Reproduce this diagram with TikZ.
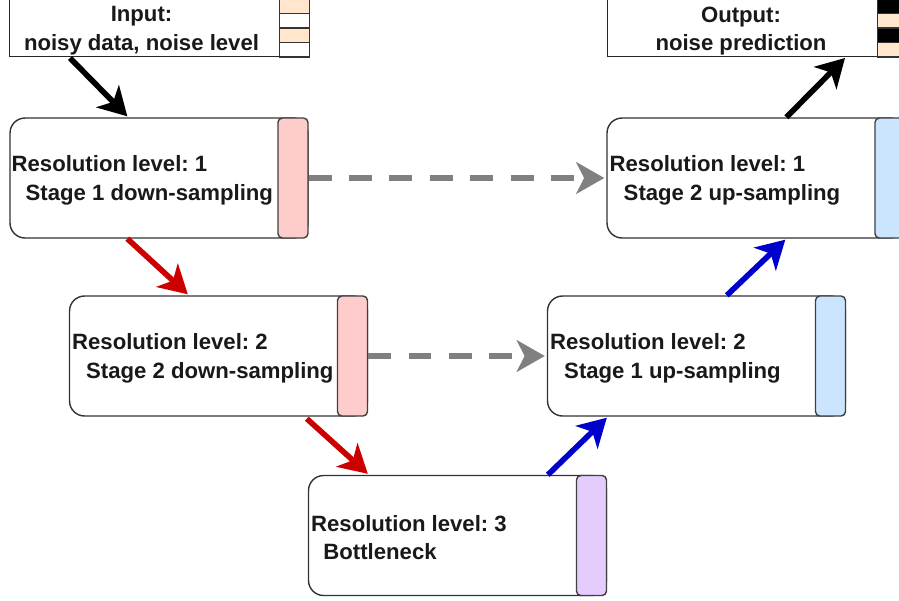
\documentclass[tikz,border=0pt]{standalone}
\usepackage{fontspec}
\setmainfont{Liberation Sans}
\frenchspacing
\usetikzlibrary{arrows.meta,calc}

\definecolor{peach}{HTML}{FFE6CC}
\definecolor{downred}{HTML}{FFCCCC}
\definecolor{upblue}{HTML}{CCE5FF}
\definecolor{neckviolet}{HTML}{E5CCFF}
\definecolor{arrred}{HTML}{CC0000}
\definecolor{arrblue}{HTML}{0000CC}
\definecolor{arrgray}{HTML}{808080}

\tikzset{
  lvlbox/.style={draw=black!80, line width=0.8pt, fill=white, rounded corners=0.3cm,
    minimum width=5.96cm, minimum height=2.4cm, inner sep=0pt},
  iobox/.style={draw=black!85, line width=0.8pt, fill=white,
    minimum width=5.98cm, minimum height=2.4cm, inner sep=0pt},
  strip/.style={draw=black!75, line width=0.8pt, rounded corners=2.5pt,
    minimum width=0.6cm, minimum height=2.4cm, inner sep=0pt},
  lbl/.style={font=\bfseries\fontsize{12.6}{16.4}\selectfont, text=black!90, inner sep=0pt},
  flow/.style={line width=3.2pt, -{Stealth[length=16pt, width=18pt, inset=4.5pt]}},
  skip/.style={flow, draw=arrgray, dash pattern=on 13pt off 10pt},
}

\begin{document}
\begin{tikzpicture}[x=0.02cm, y=-0.02cm]
  \useasboundingbox (0,0) rectangle (899,600);
  \clip (0,0) rectangle (899,600);

  % input and output
  \node[iobox, anchor=south west] (inbox) at (9,57) {};
  \foreach \i/\c in {0/white,1/peach,2/white,3/peach}
    \draw[draw=black!80, line width=0.8pt, fill=\c]
      ($(inbox.south east)+(-30,-14.5*\i)$) rectangle ($(inbox.south east)+(0,-14.5*\i-14.5)$);
  \node[lbl, align=center] (intext) at (141.5,31) {Input:\\noisy data, noise level};

  \node[iobox, anchor=south west] (outbox) at (607,57) {};
  \foreach \i/\c in {0/peach,1/black,2/peach,3/black}
    \draw[draw=black!80, line width=0.8pt, fill=\c]
      ($(outbox.south east)+(-30,-14.5*\i)$) rectangle ($(outbox.south east)+(0,-14.5*\i-14.5)$);
  \node[lbl, align=center] (outtext) at (741,31) {Output:\\noise prediction};

  % resolution levels
  \node[lvlbox] (d1) at (159,178) {};
  \node[strip, fill=downred, anchor=north east] (d1s) at (d1.north east) {};
  \node[lbl, align=left, anchor=west] (d1t) at ($(d1.west)+(2,2)$)
    {Resolution level: 1\\\hspace*{8pt}Stage 1 down-sampling};

  \node[lvlbox] (d2) at (218.5,356) {};
  \node[strip, fill=downred, anchor=north east] (d2s) at (d2.north east) {};
  \node[lbl, align=left, anchor=west] (d2t) at ($(d2.west)+(3,2)$)
    {Resolution level: 2\\\hspace*{8pt}Stage 2 down-sampling};

  \node[lvlbox] (b) at (457.5,535.5) {};
  \node[strip, fill=neckviolet, anchor=north east] (bs) at (b.north east) {};
  \node[lbl, align=left, anchor=west] (bt) at ($(b.west)+(3,2)$)
    {Resolution level: 3\\\hspace*{7pt}Bottleneck};

  \node[lvlbox] (u2) at (696.5,356) {};
  \node[strip, fill=upblue, anchor=north east] (u2s) at (u2.north east) {};
  \node[lbl, align=left, anchor=west] (u2t) at ($(u2.west)+(3,2)$)
    {Resolution level: 2\\\hspace*{8pt}Stage 1 up-sampling};

  \node[lvlbox] (u1) at (756,178) {};
  \node[strip, fill=upblue, anchor=north east] (u1s) at (u1.north east) {};
  \node[lbl, align=left, anchor=west] (u1t) at ($(u1.west)+(3,2)$)
    {Resolution level: 1\\\hspace*{8pt}Stage 2 up-sampling};

  % connections
  \begin{scope}
    \draw[flow, draw=black] ($(inbox.south west)+(61,1)$) to ($(d1.north west)+(118,-1)$);
    \draw[flow, draw=arrred] ($(d1.south west)+(118,0)$) to ($(d2.north west)+(119,-1)$);
    \draw[flow, draw=arrred] ($(d2.south west)+(238,2)$) to ($(b.north west)+(60,-1)$);
    \draw[flow, draw=arrblue] ($(b.north west)+(240,0)$) to ($(u2.south west)+(60,1)$);
    \draw[flow, draw=arrblue] ($(u2.north west)+(180,0)$) to ($(u1.south west)+(179,1)$);
    \draw[flow, draw=black] ($(u1.north west)+(180,0)$) to ($(outbox.south west)+(238,1)$);
    \draw[skip] (d1.east) to ($(u1.west)+(-2,0)$);
    \draw[skip] (d2.east) to ($(u2.west)+(-2,0)$);
  \end{scope}
\end{tikzpicture}
\end{document}
